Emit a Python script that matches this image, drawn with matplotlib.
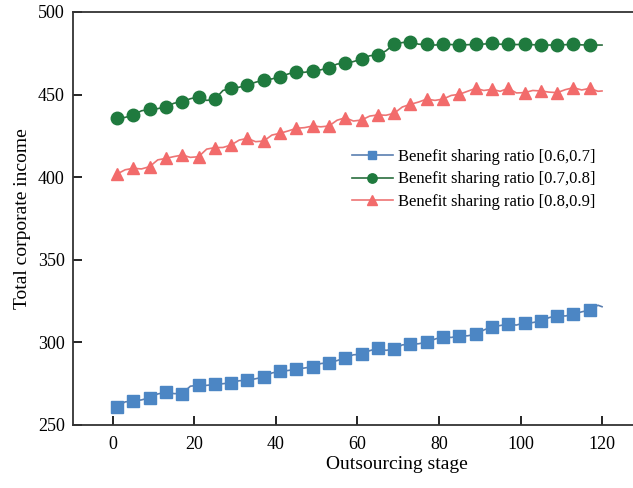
import matplotlib
matplotlib.use('Agg')
import matplotlib.pyplot as plt

# Values: markers every 4 stages, line also passes through
# the in-between points (x = 3, 7, ...) and ends at stage 120.
marker_x = list(range(1, 118, 4))
mid_x = list(range(3, 120, 4))
end_x = 120

blue_mark = [261.1, 264.5, 266.5, 269.8, 269.0, 274.0, 274.6, 275.6, 277.0, 279.0,
             282.5, 283.9, 285.3, 287.7, 290.7, 292.8, 296.4, 296.0, 298.8, 300.1,
             303.5, 303.9, 304.9, 309.5, 311.1, 311.9, 313.0, 316.2, 317.0, 319.6]
blue_mid = [264.0, 265.2, 268.8, 269.0, 273.5, 274.0, 275.0, 276.8, 278.0, 281.5,
            283.0, 284.5, 287.2, 289.0, 292.5, 295.0, 295.2, 298.5, 299.2, 302.0,
            303.0, 304.0, 307.5, 310.2, 310.5, 312.0, 315.0, 316.0, 318.5, 322.5]
blue_end = 321.6

green_mark = [435.7, 437.7, 441.1, 442.7, 445.7, 448.7, 447.2, 453.8, 455.8, 458.8,
              460.8, 463.9, 464.3, 466.3, 468.9, 471.5, 474.0, 480.6, 482.0, 480.4,
              480.4, 480.0, 480.4, 481.0, 480.4, 480.4, 480.0, 480.0, 480.4, 480.0]
green_mid = [436.2, 440.2, 441.5, 444.8, 447.5, 446.5, 452.5, 454.5, 457.5, 459.5,
             462.5, 463.5, 465.0, 468.5, 470.0, 473.5, 476.5, 481.5, 480.5, 480.0,
             480.3, 480.2, 480.6, 480.5, 480.3, 480.2, 480.0, 480.2, 480.1, 480.0]
green_end = 480.0

red_mark = [401.9, 405.4, 406.4, 411.4, 413.4, 412.4, 417.9, 419.5, 423.5, 421.9,
            426.6, 429.6, 431.0, 431.0, 436.0, 434.6, 437.7, 438.7, 444.1, 447.3,
            447.3, 450.2, 453.8, 453.2, 453.8, 451.2, 452.2, 451.2, 454.2, 453.8]
red_mid = [404.5, 405.0, 410.5, 412.5, 412.0, 417.0, 418.0, 422.5, 421.5, 425.5,
           428.0, 430.0, 430.5, 434.5, 434.0, 437.0, 437.5, 442.5, 445.5, 446.5,
           449.5, 452.0, 452.5, 452.0, 451.0, 452.5, 451.5, 453.0, 452.8, 452.0]
red_end = 452.2

labels = ['Benefit sharing ratio [0.6,0.7]',
          'Benefit sharing ratio [0.7,0.8]',
          'Benefit sharing ratio [0.8,0.9]']


def join(mark, mid, end):
    xs, ys = [], []
    for a, b, m, n in zip(marker_x, mid_x, mark, mid):
        xs += [a, b]
        ys += [m, n]
    xs.append(end_x)
    ys.append(end)
    return xs, ys


plt.rcParams['font.family'] = 'Liberation Serif'

fig = plt.figure(figsize=(6.33, 4.88), dpi=100)
ax = fig.add_axes([73 / 633, 1 - 425 / 488, 1 - 73 / 633, (425 - 12) / 488])

marks = list(range(0, 60, 2))
series = [(blue_mark, blue_mid, blue_end, '#4c86c4', '#5a7fb0', 's', 8),
          (green_mark, green_mid, green_end, '#1f7a3e', '#2a6e3e', 'o', 9),
          (red_mark, red_mid, red_end, '#f26b6b', '#ee7474', '^', 9)]
for (mk, md, en, col, lcol, m, ms), lab in zip(series, labels):
    xs, ys = join(mk, md, en)
    ax.plot(xs, ys, color=lcol, lw=1.2, marker=m, markersize=ms,
            markerfacecolor=col, markeredgecolor=col, markevery=marks, label=lab)

ax.set_xlim(-9.8, 127.6)
ax.set_ylim(250, 500)
ax.set_xticks(range(0, 121, 20))
ax.set_yticks(range(250, 501, 50))
ax.tick_params(direction='in', length=6.5, width=1.2, labelsize=13, pad=6)
ax.tick_params(axis='x', pad=8)
ax.spines['right'].set_visible(False)
for s in ['left', 'top', 'bottom']:
    ax.spines[s].set_linewidth(1.3)
    ax.spines[s].set_color('#333333')

ax.set_xlabel('Outsourcing stage', fontsize=14)
ax.xaxis.set_label_coords(0.579, -0.075)
ax.set_ylabel('Total corporate income', fontsize=14, labelpad=5)

ax.legend(loc='upper left', bbox_to_anchor=(0.498, 0.668), frameon=False,
          fontsize=12, handlelength=2.45, handletextpad=0.3, labelspacing=0.38,
          borderaxespad=0, borderpad=0, markerscale=0.75)

plt.savefig('out.png', dpi=100)
